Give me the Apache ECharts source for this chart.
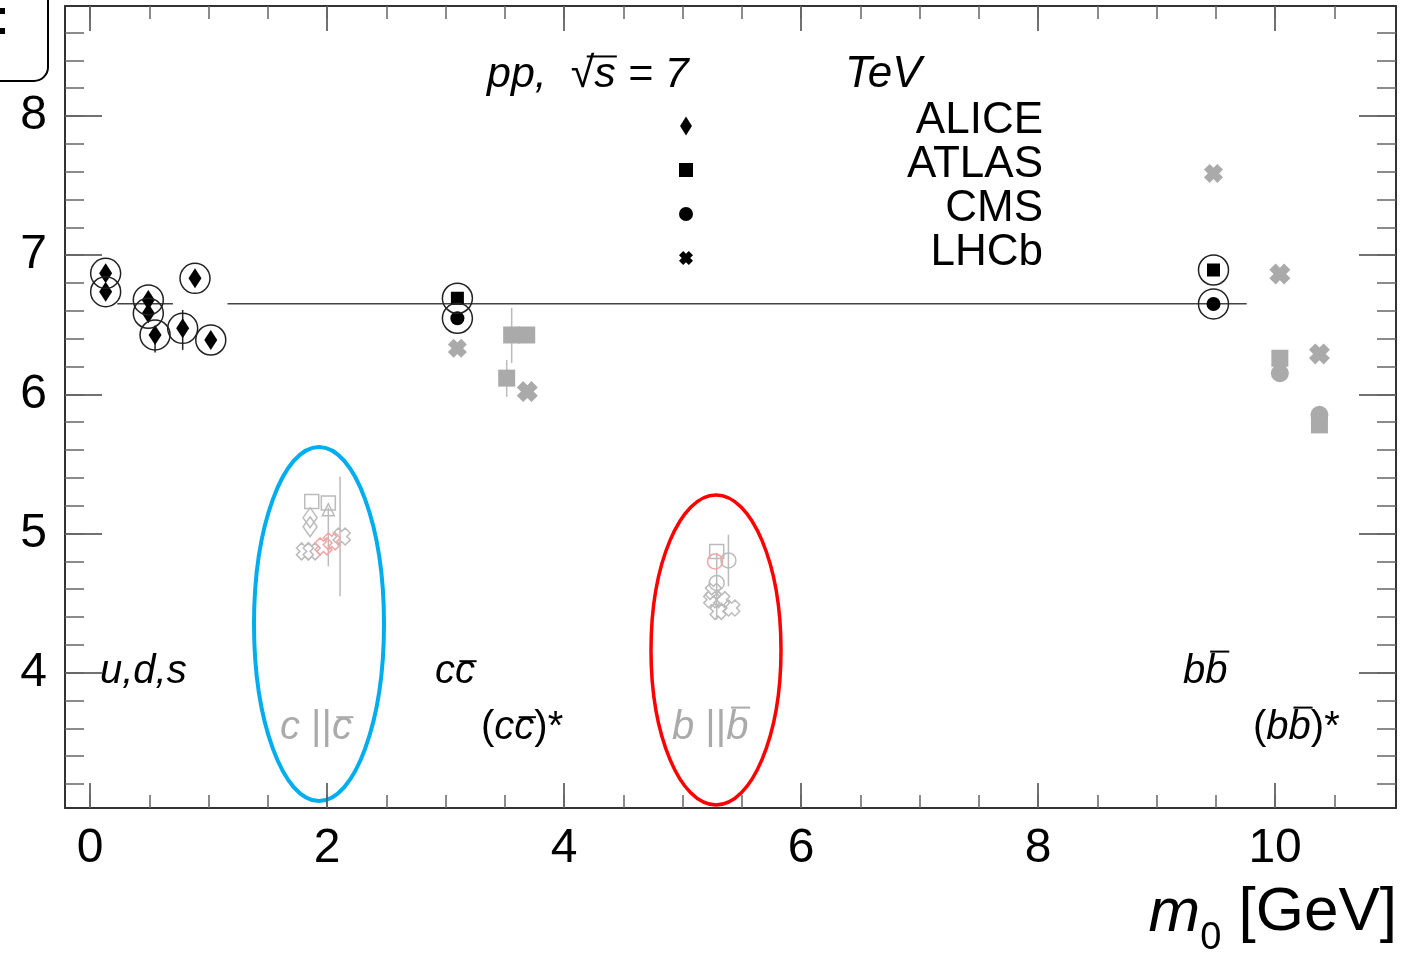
<!DOCTYPE html>
<html><head><meta charset="utf-8">
<script src="https://cdn.jsdelivr.net/npm/echarts@6/dist/echarts.min.js"></script>
<style>html,body{margin:0;padding:0;background:#fff}#c{width:1416px;height:955px}</style>
</head><body><div id="c"></div>
<script>
const FF = '"Liberation Sans", Arial, Helvetica, sans-serif';

// ---- axes ----
const xMin = -0.211, xMax = 11.02, yMin = 3.027, yMax = 8.79;
const xMajorTicks = [0, 2, 4, 6, 8, 10];
const xMinorTicks = [0, 0.5, 1, 1.5, 2, 2.5, 3, 3.5, 4, 4.5, 5, 5.5, 6, 6.5, 7, 7.5, 8, 8.5, 9, 9.5, 10, 10.5];
const yMajorTicks = [4, 5, 6, 7, 8];
const yMinorTicks = [3.2, 3.4, 3.6, 3.8, 4, 4.2, 4.4, 4.6, 4.8, 5, 5.2, 5.4, 5.6, 5.8, 6, 6.2, 6.4, 6.6, 6.8, 7, 7.2, 7.4, 7.6, 7.8, 8, 8.2, 8.4, 8.6];

// ---- ground states (circled) ----
const aliceX = [0.132, 0.132, 0.492, 0.492, 0.549, 0.782, 0.886, 1.019];
const aliceY = [6.869, 6.737, 6.678, 6.582, 6.426, 6.474, 6.833, 6.390];
const atlasX = [3.100, 9.480];
const atlasY = [6.690, 6.893];
const cmsX = [3.100, 9.480];
const cmsY = [6.546, 6.649];
const lhcbX = [3.100, 9.480];
const lhcbY = [6.331, 7.587];

// ---- excited states (grey) ----
const atlasExcX = [3.558, 3.685, 3.516, 10.040, 10.374];
const atlasExcY = [6.426, 6.426, 6.116, 6.259, 5.780];
const cmsExcX = [10.040, 10.374];
const cmsExcY = [6.151, 5.852];
const lhcbExcX = [3.690, 10.040, 10.374];
const lhcbExcY = [6.019, 6.864, 6.290];

// ---- c||cbar (open, faded) ----
const ccSqX = [1.871, 2.011], ccSqY = [5.230, 5.218];
const ccDiaX = [1.857, 1.857], ccDiaY = [5.113, 5.048];
const ccTriX = [2.011], ccTriY = [5.170];
const ccCrossX = [2.124, 1.871, 1.814], ccCrossY = [4.978, 4.871, 4.871];
const ccRedCrossX = [2.040, 1.970], ccRedCrossY = [4.943, 4.907];

// ---- b||bbar (open, faded) ----
const bbSqX = [5.288], bbSqY = [4.871];
const bbCircX = [5.387, 5.288], bbCircY = [4.806, 4.644];
const bbRedCircX = [5.274], bbRedCircY = [4.799];
const bbCrossX = [5.260, 5.246, 5.330, 5.415, 5.300], bbCrossY = [4.584, 4.524, 4.524, 4.464, 4.440];

// ---- error bars ----
const errBlackX = [0.549, 0.782], errBlackLo = [6.300, 6.319], errBlackHi = [6.430, 6.606];
const errGrayX = [3.558, 3.516, 2.110, 2.011, 5.387, 5.288];
const errGrayLo = [6.225, 5.981, 4.548, 4.763, 4.620, 4.380];
const errGrayHi = [6.620, 6.247, 5.409, 5.185, 4.991, 4.861];

// ---- reference line ----
const refY = 6.65;
const refSegments = [[0.23, 0.70], [1.16, 9.76]];

const legendNames = ['ALICE', 'ATLAS', 'CMS', 'LHCb'];

const DIAMOND = 'path://M5,0 L10,8 L5,16 L0,8 Z';
const SQUARE = 'path://M0,0 L10,0 L10,10 L0,10 Z';
const CROSS = 'path://M0,3 L3,0 L5,2 L7,0 L10,3 L8,5 L10,7 L7,10 L5,8 L3,10 L0,7 L2,5 Z';

const GREY = '#aaaaaa', OPEN = '#bbbbbb', LRED = '#f2a6a6';

const zip = (xs, ys) => xs.map((x, i) => [x, ys[i]]);

function scatter(name, xs, ys, symbol, size, color, extra) {
  return Object.assign({
    type: 'scatter', name, data: zip(xs, ys), symbol, symbolSize: size,
    itemStyle: { color, opacity: 1 }, silent: true, emphasis: { disabled: true }, z: 4
  }, extra || {});
}
function openScatter(xs, ys, symbol, size, color) {
  return {
    type: 'scatter', data: zip(xs, ys), symbol, symbolSize: size,
    itemStyle: { color: 'rgba(0,0,0,0)', borderColor: color, borderWidth: 1.5, opacity: 1 },
    silent: true, emphasis: { disabled: true }, z: 3
  };
}
function errBars(xs, lo, hi, color) {
  return {
    type: 'custom', silent: true, z: 2,
    data: xs.map((x, i) => [x, lo[i], hi[i]]),
    encode: { x: 0, y: [1, 2] },
    renderItem: (params, api) => {
      const p1 = api.coord([api.value(0), api.value(1)]);
      const p2 = api.coord([api.value(0), api.value(2)]);
      return { type: 'line', shape: { x1: p1[0], y1: p1[1], x2: p2[0], y2: p2[1] }, style: { stroke: color, lineWidth: 1.5 } };
    }
  };
}

const series = [];
refSegments.forEach(s => series.push({
  type: 'line', data: [[s[0], refY], [s[1], refY]], symbol: 'none', silent: true,
  lineStyle: { color: '#444', width: 1.5 }, z: 1
}));
series.push(errBars(errBlackX, errBlackLo, errBlackHi, '#222'));
series.push(errBars(errGrayX, errGrayLo, errGrayHi, '#bbbbbb'));
// rings around ground states
series.push({
  type: 'scatter', silent: true, emphasis: { disabled: true }, z: 5,
  data: zip(aliceX, aliceY).concat(zip(atlasX, atlasY), zip(cmsX, cmsY)),
  symbol: 'circle', symbolSize: 30,
  itemStyle: { color: 'rgba(0,0,0,0)', borderColor: '#222', borderWidth: 1.5, opacity: 1 }
});
series.push(scatter('ALICE', aliceX, aliceY, DIAMOND, [13, 20], '#000'));
series.push(scatter('ATLAS', atlasX, atlasY, SQUARE, 13, '#000'));
series.push(scatter('CMS', cmsX, cmsY, 'circle', 14, '#000'));
series.push(scatter('LHCb', lhcbX, lhcbY, CROSS, 19, GREY));
series.push(scatter('ATLAS*', atlasExcX, atlasExcY, SQUARE, 17, GREY));
series.push(scatter('CMS*', cmsExcX, cmsExcY, 'circle', 18, GREY));
series.push(scatter('LHCb*', lhcbExcX, lhcbExcY, CROSS, 21, GREY));
series.push(openScatter(ccSqX, ccSqY, SQUARE, 14, OPEN));
series.push(openScatter(ccDiaX, ccDiaY, DIAMOND, [14, 20], OPEN));
series.push(openScatter(ccTriX, ccTriY, 'triangle', 12, OPEN));
series.push(openScatter(ccCrossX, ccCrossY, CROSS, 17, OPEN));
series.push(openScatter(ccRedCrossX, ccRedCrossY, CROSS, 17, LRED));
series.push(openScatter(bbSqX, bbSqY, SQUARE, 14, OPEN));
series.push(openScatter(bbCircX, bbCircY, 'circle', 15, OPEN));
series.push(openScatter(bbRedCircX, bbRedCircY, 'circle', 15, LRED));
series.push(openScatter(bbCrossX, bbCrossY, CROSS, 16, OPEN));

// ---- annotation text helper (measures glyph runs so overlines sit on letters) ----
const mc = document.createElement('canvas').getContext('2d');
function label(parts, x0, base, size, color, alignRight) {
  const out = [];
  const w = parts.map(p => { const s = p.size || size; mc.font = (p.it ? 'italic ' : '') + s + 'px ' + FF; return mc.measureText(p.t).width; });
  const total = w.reduce((a, b) => a + b, 0);
  let x = alignRight ? x0 - total : x0;
  parts.forEach((p, i) => {
    const s = p.size || size;
    const b = base + (p.dy || 0);
    const col = p.color || color;
    out.push({ type: 'text', x: x, y: b - 0.35 * s, silent: true,
      style: { text: p.t, fontSize: s, fontFamily: FF, fontStyle: p.it ? 'italic' : 'normal', fill: col, align: 'left', verticalAlign: 'middle' } });
    if (p.over != null) {
      const oy = base - p.over * s;
      out.push({ type: 'line', silent: true,
        shape: { x1: x + w[i] * (p.ox1 != null ? p.ox1 : 0.22), y1: oy, x2: x + w[i] * (p.ox2 != null ? p.ox2 : 1.08), y2: oy },
        style: { stroke: col, lineWidth: 2 } });
    }
    x += w[i];
  });
  return out;
}

let graphics = [];
graphics = graphics.concat(
  label([{ t: 'pp,', it: true }, { t: '  ' }, { t: '√' }, { t: 's', it: true, over: 0.78, ox1: -0.35, ox2: 1.05 }, { t: ' = 7', it: true }], 487, 90, 43, '#000'),
  label([{ t: 'TeV', it: true }], 845, 90, 44, '#000'),
  label([{ t: 'u,d,s', it: true }], 100, 686, 40, '#000'),
  label([{ t: 'c', it: true }, { t: 'c', it: true, over: 0.62 }], 435, 686, 40, '#000'),
  label([{ t: 'c ', it: true }, { t: '||' }, { t: 'c', it: true, over: 0.62 }], 280, 742, 40, '#aaaaaa'),
  label([{ t: '(' }, { t: 'c', it: true }, { t: 'c', it: true, over: 0.62 }, { t: ')*' }], 481, 742, 40, '#000'),
  label([{ t: 'b ', it: true }, { t: '||' }, { t: 'b', it: true, over: 0.86 }], 672, 742, 40, '#aaaaaa'),
  label([{ t: 'b', it: true }, { t: 'b', it: true, over: 0.86 }], 1183, 686, 40, '#000'),
  label([{ t: '(' }, { t: 'b', it: true }, { t: 'b', it: true, over: 0.86 }, { t: ')*' }], 1253, 742, 40, '#000'),
  label([{ t: 'm', it: true }, { t: '0', size: 38, dy: 17 }, { t: ' [GeV]' }], 1397, 935, 62, '#000', true)
);
// highlight ellipses
graphics.push({ type: 'ellipse', silent: true, shape: { cx: 319, cy: 624, rx: 65, ry: 177 }, style: { fill: 'none', stroke: '#00aeef', lineWidth: 4 } });
graphics.push({ type: 'ellipse', silent: true, shape: { cx: 716, cy: 650, rx: 65, ry: 155 }, style: { fill: 'none', stroke: '#ff0000', lineWidth: 3.5 } });
// top-left cut-off box
graphics.push({ type: 'rect', silent: true, shape: { x: -20, y: -20, width: 68, height: 101, r: 14 }, style: { fill: 'none', stroke: '#000', lineWidth: 2 } });
graphics.push({ type: 'rect', silent: true, shape: { x: 0, y: 8, width: 5, height: 6 }, style: { fill: '#000' } });
graphics.push({ type: 'rect', silent: true, shape: { x: 0, y: 28, width: 5, height: 6 }, style: { fill: '#000' } });

function gridDef() { return { left: 65, right: 20, top: 6, bottom: 147, containLabel: false, outerBoundsMode: 'none' }; }
function xAx(grid, pos, ticks, len, showLine, showLabel) {
  return {
    type: 'value', gridIndex: grid, position: pos, min: xMin, max: xMax,
    splitLine: { show: false },
    axisLine: { show: showLine, onZero: false, lineStyle: { color: '#333', width: 2 } },
    axisTick: { show: true, inside: true, length: len, customValues: ticks, lineStyle: { color: len > 20 ? '#444' : '#666', width: 1.5 } },
    axisLabel: showLabel ? { show: true, customValues: ticks, fontSize: 48, fontFamily: FF, color: '#000', margin: 17 } : { show: false }
  };
}
function yAx(grid, pos, ticks, len, showLine, showLabel) {
  return {
    type: 'value', gridIndex: grid, position: pos, min: yMin, max: yMax,
    splitLine: { show: false },
    axisLine: { show: showLine, onZero: false, lineStyle: { color: '#333', width: 2 } },
    axisTick: { show: true, inside: true, length: len, customValues: ticks, lineStyle: { color: len > 30 ? '#444' : '#666', width: 1.5 } },
    axisLabel: showLabel ? { show: true, customValues: ticks, fontSize: 48, fontFamily: FF, color: '#000', margin: 18 } : { show: false }
  };
}

const chart = echarts.init(document.getElementById('c'), null, { renderer: 'canvas' });
chart.setOption({
  animation: false,
  backgroundColor: '#fff',
  grid: [gridDef(), gridDef(), gridDef(), gridDef()],
  xAxis: [
    xAx(0, 'bottom', xMajorTicks, 25, true, true),
    xAx(1, 'bottom', xMinorTicks, 13, false, false),
    xAx(2, 'top', xMajorTicks, 25, true, false),
    xAx(3, 'top', xMinorTicks, 13, false, false)
  ],
  yAxis: [
    yAx(0, 'left', yMajorTicks, 37, true, true),
    yAx(1, 'left', yMinorTicks, 19, false, false),
    yAx(2, 'right', yMajorTicks, 37, true, false),
    yAx(3, 'right', yMinorTicks, 19, false, false)
  ],
  legend: {
    orient: 'vertical', left: 679, top: 99, padding: 0, itemGap: -10,
    itemWidth: 14, itemHeight: 19, selectedMode: false,
    data: [
      { name: 'ALICE', icon: DIAMOND, itemStyle: { color: '#000', opacity: 1 } },
      { name: 'ATLAS', icon: SQUARE, itemStyle: { color: '#000', opacity: 1 } },
      { name: 'CMS', icon: 'circle', itemStyle: { color: '#000', opacity: 1 } },
      { name: 'LHCb', icon: CROSS, itemStyle: { color: '#000', opacity: 1 } }
    ],
    formatter: n => '{a|' + n + '}',
    textStyle: { rich: { a: { fontSize: 44, fontFamily: FF, color: '#000', width: 345, align: 'right', lineHeight: 24, padding: [0, 0, 10, 0] } } }
  },
  graphic: graphics,
  series: series
});
</script></body></html>
